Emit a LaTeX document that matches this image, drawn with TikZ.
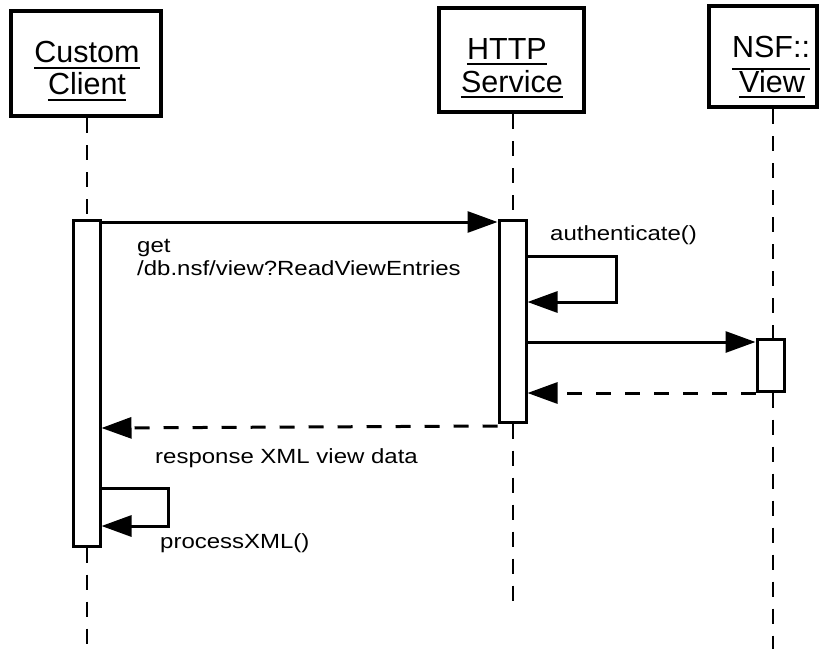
\documentclass[tikz,border=0pt]{standalone}
\usepackage{fontspec}
\setmainfont{Liberation Sans}[FakeStretch=1.17]
\newfontfamily\hdrfont{Liberation Sans}
\usetikzlibrary{arrows.meta}
\begin{document}
\begin{tikzpicture}[x=1pt,y=-1pt,
  header/.style={draw,line width=4pt,fill=white,inner sep=0pt},
  htext/.style={inner sep=0pt,anchor=base,font=\hdrfont\fontsize{30.5}{30}\selectfont},
  uline/.style={line width=2pt},
  lifeline/.style={line width=2pt,dash pattern=on 15pt off 12pt},
  actbar/.style={draw,line width=3pt,fill=white,inner sep=0pt,minimum width=27pt},
  msg/.style={line width=3pt,-{Triangle[length=30pt 0,width=21pt 0]}},
  ret/.style={msg,dash pattern=on 15pt off 14pt},
  lbl/.style={inner sep=0pt,anchor=base west,font=\fontsize{20.5}{23}\selectfont},
]
\useasboundingbox (0,0) rectangle (819,649);
\fill[white] (0,0) rectangle (819,649);

% header boxes
\node[header,minimum width=150pt,minimum height=105pt] (cc) at (86,63.5) {};
\node[header,minimum width=145pt,minimum height=104pt] (hs) at (511.5,60) {};
\node[header,minimum width=108pt,minimum height=101pt] (nv) at (763,56.5) {};

% header texts
\node[htext] (t1) at (87,62) {Custom};
\node[htext] (t2) at (87,94) {Client};
\node[htext] (t3) at (507,59) {HTTP};
\node[htext] (t4) at (512,92) {Service};
\node[htext] (t5) at (771,57) {NSF::};
\node[htext] (t6) at (772,92) {View};
\draw[uline] ([yshift=-6pt]t1.base west) -- ([yshift=-6pt]t1.base east);
\draw[uline] ([yshift=-6pt]t2.base west) -- ([yshift=-6pt]t2.base east);
\draw[uline] ([yshift=-5pt]t3.base west) -- ([yshift=-5pt]t3.base east);
\draw[uline] ([yshift=-5pt]t4.base west) -- ([yshift=-5pt]t4.base east);
\draw[uline] ([yshift=-12pt]t5.base west) -- ([yshift=-12pt]t5.base east);
\draw[uline] ([yshift=-5pt]t6.base west) -- ([yshift=-5pt]t6.base east);

% lifeline ends
\coordinate (ccend) at (87,649);
\coordinate (hsend) at (513,608);
\coordinate (nvend) at (773,649);

% activation bars
\node[actbar,minimum height=326pt] (cbar) at (86.5,383) {};
\node[actbar,minimum height=202pt] (hbar) at (512.5,321) {};
\node[actbar,minimum height=52pt] (nbar) at (770.5,365) {};

% lifelines
\draw[lifeline] (cc.south -| ccend) -- (cbar.north -| ccend);
\draw[lifeline] (cbar.south -| ccend) -- (ccend);
\draw[lifeline] (hs.south -| hsend) -- (hbar.north -| hsend);
\draw[lifeline] (hbar.south -| hsend) -- (hsend);
\draw[lifeline] (nv.south -| nvend) -- (nbar.north -| nvend);
\draw[lifeline] (nbar.south -| nvend) -- (nvend);

% messages
\draw[msg] (cbar.east |- 0,222) -- (hbar.west |- 0,222);
\node[lbl] (l1) at (137,252) {get};
\node[lbl] (l2) at (137,275) {/db.nsf/view?ReadViewEntries};

\draw[msg] (hbar.east |- 0,256) -- (616,256) -- (616,302) -- (hbar.east |- 0,302);
\node[lbl] (l3) at (550,240) {authenticate()};

\draw[msg] (hbar.east |- 0,342) -- (nbar.west |- 0,342);
\draw[ret] (nbar.west |- 0,393) -- (hbar.east |- 0,393);

\draw[ret] (hbar.west |- 0,426) -- (cbar.east |- 0,428);
\node[lbl] (l4) at (155,463) {response XML view data};

\draw[msg] (cbar.east |- 0,488) -- (168,488) -- (168,526) -- (cbar.east |- 0,526);
\node[lbl] (l5) at (160,548) {processXML()};
\end{tikzpicture}
\end{document}
